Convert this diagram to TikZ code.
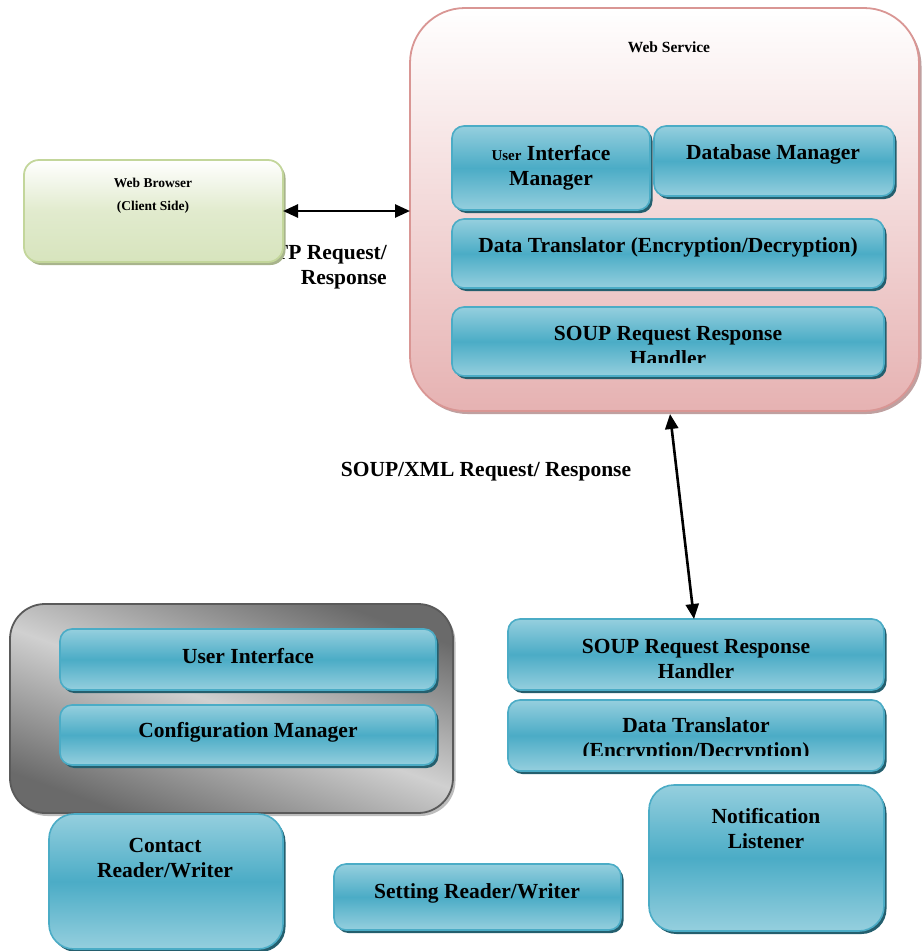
\documentclass[tikz,border=0pt]{standalone}
\usepackage{fontspec}
\setmainfont{Liberation Serif}
\usetikzlibrary{shadows,arrows.meta,calc}
\definecolor{bluemid}{HTML}{4BACC6}
\definecolor{bluelight}{HTML}{95CFDE}
\definecolor{blueshadow}{HTML}{245F6E}
\definecolor{pinkfill}{HTML}{E6B2B2}
\definecolor{pinkdraw}{HTML}{D99694}
\definecolor{pinkshadow}{HTML}{BFA0A0}
\definecolor{greenfill}{HTML}{D7E4BD}
\definecolor{greendraw}{HTML}{C3D69B}
\definecolor{greenshadow}{HTML}{A8B48C}
\definecolor{graydark}{HTML}{6A6A6A}
\definecolor{graylight}{HTML}{D0D0D0}
\definecolor{graydraw}{HTML}{5A5A5A}
\definecolor{grayshadow}{HTML}{BDBDBD}
\begin{document}
\begin{tikzpicture}[x=1pt,y=-1pt,
  box/.style={anchor=north west, inner sep=0pt, outer sep=0pt, rectangle},
  bluebox/.style={box, draw=bluemid, line width=1.6pt, top color=bluelight, bottom color=bluelight, middle color=bluemid, rounded corners=12pt,
    drop shadow={shadow xshift=2.5pt, shadow yshift=-3pt, fill=blueshadow, opacity=1}},
  pinkbox/.style={box, draw=pinkdraw, line width=1.8pt, top color=white, bottom color=pinkfill, middle color=pinkfill!50!white, rounded corners=55pt,
    drop shadow={shadow xshift=2.5pt, shadow yshift=-3pt, fill=pinkshadow, opacity=1}},
  greenbox/.style={box, draw=greendraw, line width=1.8pt, top color=white, bottom color=greenfill, middle color=greenfill!75!white, rounded corners=15pt,
    drop shadow={shadow xshift=2.5pt, shadow yshift=-3pt, fill=greenshadow, opacity=1}},
  graybox/.style={box, draw=graydraw, line width=1.8pt, top color=graydark, bottom color=graydark, middle color=graylight, shading angle=-20, rounded corners=35pt,
    drop shadow={shadow xshift=2.5pt, shadow yshift=-3pt, fill=grayshadow, opacity=1}},
  txt/.style={font=\bfseries\fontsize{21.5}{25}\selectfont, align=center, inner sep=0pt},
  smalltxt/.style={font=\bfseries\fontsize{13.5}{23}\selectfont, align=center, inner sep=0pt},
  conn/.style={line width=2.6pt, {Triangle[length=15pt,width=13pt]}-{Triangle[length=15pt,width=13pt]}}
]
\useasboundingbox (0,0) rectangle (922,951);

% Web Service
\node[pinkbox, minimum width=509pt, minimum height=403pt] (ws) at (410,8) {};
\node[font=\bfseries\fontsize{15.5}{17}\selectfont, inner sep=0pt] (wsT) at (669,47) {Web Service};
\node[bluebox, minimum width=198pt, minimum height=84pt] (uim) at (452,126) {};
\node[txt] (uimT) at (551,168) {{\fontsize{15}{25}\selectfont User} Interface\\Manager};
\node[bluebox, minimum width=240pt, minimum height=70pt] (dbm) at (654,126) {};
\node[txt] (dbmT) at (773,154) {Database Manager};
\node[bluebox, minimum width=432pt, minimum height=69pt] (dt) at (452,219) {};
\node[txt] (dtT) at (668,247) {Data Translator (Encryption/Decryption)};
\node[bluebox, minimum width=432pt, minimum height=69pt] (soup) at (452,307) {};
\begin{scope}
  \clip (452,300) rectangle (884,362.5);
  \node[txt] (soupT) at (668,346) {SOUP Request Response\\Handler};
\end{scope}

% HTTP label (partly hidden by browser box)
\node[txt, align=right, anchor=east] (httpT) at (387,267) {HTTP Request/\\Response};

% Web Browser
\node[greenbox, minimum width=259pt, minimum height=102pt] (wb) at (24,160) {};
\node[smalltxt] (wbT) at (153,196) {Web Browser\\(Client Side)};

\draw[conn] (wb.east) -- (wb.east -| ws.west);

% SOUP/XML label
\node[txt] (xmlT) at (486,472) {SOUP/XML Request/ Response};

% lower left group
\node[graybox, minimum width=443pt, minimum height=209pt] (grp) at (10,604) {};
\node[bluebox, minimum width=376pt, minimum height=61pt] (ui) at (60,629) {};
\node[txt] (uiT) at (248,656) {User Interface};
\node[bluebox, minimum width=376pt, minimum height=60pt] (cm) at (60,705) {};
\node[txt] (cmT) at (248,732) {Configuration Manager};
\node[bluebox, rounded corners=25pt, minimum width=234pt, minimum height=135pt] (crw) at (49,814) {};
\node[txt] (crwT) at (165,858) {Contact\\Reader/Writer};
\node[bluebox, minimum width=287pt, minimum height=66pt] (srw) at (334,864) {};
\node[txt] (srwT) at (477,893) {Setting Reader/Writer};

% lower right
\node[bluebox, minimum width=376pt, minimum height=71pt] (soup2) at (508,619) {};
\node[txt] (soup2T) at (696,659) {SOUP Request Response\\Handler};
\node[bluebox, minimum width=376pt, minimum height=71pt] (dt2) at (508,700) {};
\begin{scope}
  \clip (508,695) rectangle (884,755.5);
  \node[txt] (dt2T) at (696,740) {Data Translator\\(Encryption/Decryption)};
\end{scope}
\node[bluebox, rounded corners=25pt, minimum width=235pt, minimum height=146pt] (nl) at (649,785) {};
\node[txt] (nlT) at (766,829) {Notification\\Listener};

% SOUP/XML connector
\coordinate (xa) at (670,0);
\coordinate (xb) at (694,0);
\draw[conn] ($(ws.south -| xa)+(0,3)$) -- (soup2.north -| xb);
\end{tikzpicture}
\end{document}
